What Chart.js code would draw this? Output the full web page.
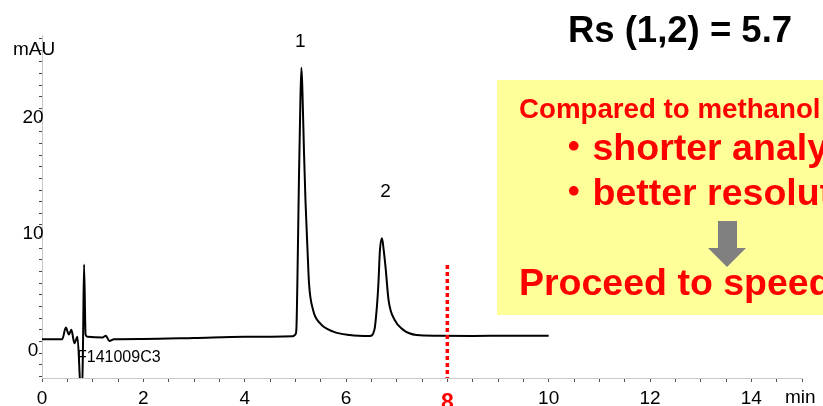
<!DOCTYPE html>
<html>
<head>
<meta charset="utf-8">
<script src="https://cdn.jsdelivr.net/npm/chart.js@4/dist/chart.umd.min.js"></script>
<style>
  html, body { margin: 0; padding: 0; background: #fff; }
  #wrap { width: 823px; height: 406px; }
</style>
</head>
<body>
<div id="wrap"><canvas id="chromChart" width="823" height="406"></canvas></div>
<script>
// retention time (min) and detector signal (mAU)
const timeMin = [
  0, 0.40, 0.47, 0.53, 0.58, 0.64, 0.70, 0.77, 0.79, 0.81, 0.83, 0.86, 0.90,
  1.20, 1.26, 1.33, 1.42, 2.0, 3.0, 4.0, 4.95,
  5.00, 5.02, 5.04, 5.07, 5.10, 5.12, 5.14, 5.17, 5.20, 5.24, 5.27, 5.35, 5.49, 5.75, 6.07, 6.47,
  6.56, 6.61, 6.64, 6.67, 6.71, 6.74, 6.78, 6.84, 6.96, 7.13, 7.39, 7.8, 8.5, 9.2, 10.0
];
const signalMAU = [
  0.2, 0.2, 1.2, 0.6, 1.0, -0.15, 0.4, -4.5, -4.5, 0.0, 6.6, 0.6, 0.4,
  0.35, 0.5, 0.05, 0.2, 0.22, 0.3, 0.4, 0.45,
  0.6, 1.0, 5.0, 13.6, 20.7, 23.5, 21.5, 16.4, 12.1, 7.9, 5.0, 2.7, 1.55, 0.85, 0.56, 0.47,
  1.0, 3.0, 5.0, 7.85, 8.86, 8.0, 6.4, 3.56, 1.85, 1.0, 0.56, 0.5, 0.48, 0.5, 0.5
];

// peak numbering
const peakNames = ["1", "2"];
const peakTimes = [5.10, 6.78];

// red dotted marker at 8 min
const markerTime = 8;
const markerTop = 6.57;

const xTickLabels = ["0", "2", "4", "6", "8", "10", "12", "14"];
const yTickLabels = ["0", "10", "20"];

const sampleName = "F141009C3";
const resolutionText = "Rs (1,2) = 5.7";
const noteLines = [
  "Compared to methanol",
  "\u30FBshorter analysis time",
  "\u30FBbetter resolution",
  "Proceed to speed-up"
];

Chart.defaults.font.family = '"Liberation Sans", Arial, sans-serif';
Chart.defaults.color = "#000";

const SANS = '"Liberation Sans", Arial, "Noto Sans CJK JP", sans-serif';

const overlayPlugin = {
  id: "overlay",
  afterDraw(chart) {
    const ctx = chart.ctx;
    const xs = chart.scales.x;
    const ys = chart.scales.y;
    ctx.save();

    // y tick labels (ChemStation style, hanging just under the tick)
    ctx.fillStyle = "#000";
    ctx.textAlign = "center";
    ctx.textBaseline = "middle";
    ctx.font = "19px " + SANS;
    yTickLabels.forEach((lab) => {
      ctx.fillText(lab, 33, ys.getPixelForValue(Number(lab)) + 9);
    });

    // axis captions
    ctx.textBaseline = "alphabetic";
    ctx.fillText("mAU", 34, 55);
    ctx.textAlign = "left";
    ctx.fillText("min", 785, 403);
    ctx.font = "16px " + SANS;
    ctx.fillText(sampleName, 77, 362);

    // peak numbers
    ctx.font = "19px " + SANS;
    ctx.textAlign = "center";
    const peakLabelY = [47, 197];
    peakNames.forEach((name, i) => {
      ctx.fillText(name, xs.getPixelForValue(peakTimes[i]), peakLabelY[i]);
    });

    // red "8" tick label
    ctx.fillStyle = "#ff0000";
    ctx.font = "bold 23px " + SANS;
    ctx.textBaseline = "top";
    ctx.fillText(String(markerTime), xs.getPixelForValue(markerTime), 392);

    // resolution
    ctx.fillStyle = "#000";
    ctx.textBaseline = "alphabetic";
    ctx.font = "bold 36.5px " + SANS;
    ctx.fillText(resolutionText, 680, 42);

    // yellow note box
    ctx.fillStyle = "#ffff99";
    ctx.fillRect(497, 80, 340, 235);

    ctx.fillStyle = "#ff0000";
    ctx.textAlign = "left";
    ctx.font = "bold 27.7px " + SANS;
    ctx.fillText(noteLines[0], 519, 118);
    ctx.font = "bold 37.5px " + SANS;
    ctx.fillText(noteLines[1], 555, 160);
    ctx.fillText(noteLines[2], 555, 205);
    ctx.fillText(noteLines[3], 519, 295);

    // grey down arrow
    ctx.fillStyle = "#808080";
    ctx.beginPath();
    ctx.moveTo(718, 221);
    ctx.lineTo(737, 221);
    ctx.lineTo(737, 248);
    ctx.lineTo(746, 248);
    ctx.lineTo(727, 267);
    ctx.lineTo(708, 248);
    ctx.lineTo(718, 248);
    ctx.closePath();
    ctx.fill();

    ctx.restore();
  }
};

const ctx = document.getElementById("chromChart").getContext("2d");
const chromChart = new Chart(ctx, {
  type: "line",
  data: {
    datasets: [
      {
        label: "marker",
        data: [
          { x: markerTime, y: markerTop },
          { x: markerTime, y: -10 }
        ],
        borderColor: "#ff0000",
        borderWidth: 3.5,
        borderDash: [4, 3],
        pointRadius: 0,
        fill: false
      },
      {
        label: "signal",
        data: timeMin.map((t, i) => ({ x: t, y: signalMAU[i] })),
        borderColor: "#000",
        borderWidth: 2,
        pointRadius: 0,
        cubicInterpolationMode: "monotone",
        fill: false
      }
    ]
  },
  options: {
    responsive: false,
    animation: false,
    layout: { padding: { top: 35, right: 21, left: 0, bottom: 0 } },
    scales: {
      x: {
        type: "linear",
        min: 0,
        max: 15,
        afterFit: (scale) => { scale.height = 28; },
        border: { color: "#c8c8c8", width: 1 },
        grid: { drawOnChartArea: false, tickLength: 4, color: "#555" },
        ticks: {
          stepSize: 0.5,
          autoSkip: false,
          maxRotation: 0,
          padding: 5,
          font: { size: 19 },
          callback: (v) => {
            const s = String(v);
            return v !== markerTime && xTickLabels.includes(s) ? s : "";
          }
        }
      },
      y: {
        min: -3.13,
        max: 26.3,
        afterFit: (scale) => { scale.width = 42; },
        border: { color: "#c8c8c8", width: 1 },
        grid: { drawOnChartArea: false, tickLength: 3, color: "#444" },
        ticks: {
          stepSize: 1,
          includeBounds: false,
          autoSkip: false,
          callback: () => ""
        }
      }
    },
    plugins: {
      legend: { display: false },
      tooltip: { enabled: false }
    }
  },
  plugins: [overlayPlugin]
});
</script>
</body>
</html>
